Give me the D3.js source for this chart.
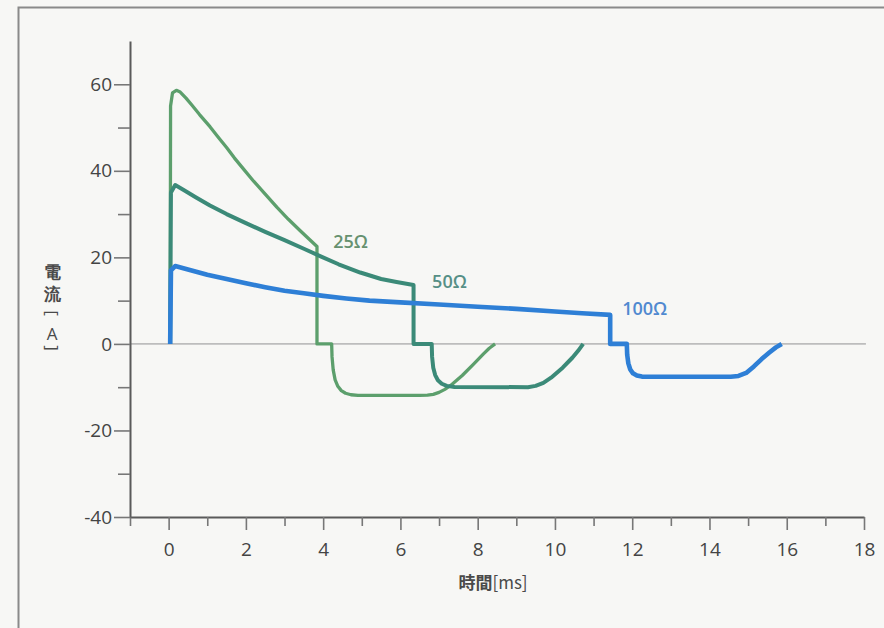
<!DOCTYPE html>
<html>
<head>
<meta charset="utf-8">
<script src="https://cdn.jsdelivr.net/npm/d3@7"></script>
<style>
  html, body { margin: 0; padding: 0; background: #f7f7f5; }
  svg text { font-family: "Open Sans", "Noto Sans", sans-serif; }
</style>
</head>
<body>
<div id="chart"></div>
<script>
// 軸の目盛り
var xTicks = d3.range(-1, 19);
var xLabels = [0, 2, 4, 6, 8, 10, 12, 14, 16, 18];
var yTicks = d3.range(-40, 61, 10);
var yLabels = [-40, -20, 0, 20, 40, 60];

// 負荷抵抗ごとの電流波形 [時間ms, 電流A]
var r25 = [[0.04,0],[0.05,55],[0.1,58],[0.2,58.6],[0.3,58.2],[0.45,56.8],[0.6,55.2],[0.8,53],
  [1.07,50.2],[1.3,47.6],[1.5,45.4],[1.7,43.0],[1.94,40.4],[2.2,37.6],[2.5,34.6],[2.8,31.6],
  [3.1,28.8],[3.4,26.2],[3.64,24.2],[3.84,22.5],[3.84,0],[4.22,0],[4.23,-3],[4.26,-6],[4.31,-8.3],
  [4.38,-9.8],[4.47,-10.8],[4.58,-11.4],[4.72,-11.75],[4.9,-11.9],[6.5,-11.9],[6.7,-11.85],
  [6.85,-11.65],[7.0,-11.2],[7.15,-10.5],[7.3,-9.6],[7.6,-7.3],[7.9,-4.6],[8.15,-2.3],[8.3,-1.0],[8.45,0]];
var r50 = [[0.04,0],[0.06,35],[0.17,36.7],[0.4,35.5],[0.7,33.9],[1.07,32.0],[1.5,30.0],[2.0,27.9],
  [2.5,25.9],[3.0,24.0],[3.5,22.0],[3.92,20.3],[4.4,18.4],[4.96,16.5],[5.5,15.0],[5.9,14.3],[6.34,13.6],
  [6.34,0],[6.81,0],[6.82,-3],[6.85,-5.5],[6.9,-7.2],[6.97,-8.4],[7.07,-9.2],[7.2,-9.7],[7.4,-9.95],
  [9.3,-10],[9.5,-9.7],[9.7,-9.0],[9.9,-7.8],[10.2,-5.5],[10.45,-3.2],[10.6,-1.6],[10.73,0]];
var r100 = [[0.04,0],[0.06,17],[0.17,18.0],[0.5,17.2],[1.0,16.0],[1.5,15.0],[2.0,14.0],[2.5,13.1],
  [3.0,12.3],[3.5,11.7],[4.0,11.1],[4.6,10.5],[5.2,10.0],[6.0,9.6],[7.0,9.1],[8.0,8.6],[9.0,8.1],
  [10.0,7.5],[10.7,7.1],[11.43,6.7],[11.43,0],[11.86,0],[11.87,-2.5],[11.9,-4.5],[11.95,-5.9],
  [12.02,-6.8],[12.12,-7.3],[12.25,-7.55],[12.45,-7.6],[14.55,-7.6],[14.75,-7.4],[14.95,-6.7],
  [15.15,-5.2],[15.35,-3.5],[15.55,-2.0],[15.72,-0.8],[15.87,0]];

var series = [
  {name: "25Ω", values: r25, color: "#5c9f6c", width: 3.3, label: [4.26, 22.2], labelColor: "#66916f"},
  {name: "50Ω", values: r50, color: "#3b8a78", width: 4, label: [6.82, 12.9], labelColor: "#568f86"},
  {name: "100Ω", values: r100, color: "#2e7fd6", width: 4.6, label: [11.74, 6.7], labelColor: "#5089d0"}
];

var W = 884, H = 628;
var margin = {top: 41, right: 20, bottom: 111, left: 130};
var width = W - margin.left - margin.right;
var height = H - margin.top - margin.bottom;

var root = d3.select("#chart").append("svg")
    .attr("width", W)
    .attr("height", H);

root.append("rect").attr("width", W).attr("height", H).attr("fill", "#f7f7f5");

// 外枠
root.append("path")
    .attr("d", "M18.5," + H + "V7.5H" + W)
    .attr("fill", "none")
    .attr("stroke", "#8a8a8a")
    .attr("stroke-width", 2);

var svg = root.append("g")
    .attr("transform", "translate(" + margin.left + "," + margin.top + ")");

var x = d3.scaleLinear().domain([-1, 18]).range([0, width]);
var y = d3.scaleLinear().domain([-40, 70]).range([height, 0]);

// ゼロ線
svg.append("line")
    .attr("x1", x(-1)).attr("x2", x(18.05))
    .attr("y1", y(0)).attr("y2", y(0))
    .attr("stroke", "#bdbdbd")
    .attr("stroke-width", 1.6);

// X軸
var xAxis = svg.append("g")
    .attr("class", "x-axis")
    .attr("transform", "translate(0," + height + ")")
    .call(d3.axisBottom(x).tickValues(xTicks)
      .tickSize(10).tickSizeOuter(0)
      .tickFormat(function(d) { return xLabels.indexOf(d) >= 0 ? d : ""; }));
xAxis.selectAll(".tick line")
    .attr("y2", function(d) { return d % 2 === 0 ? 13 : 9; });
xAxis.selectAll("text").attr("dy", "1.35em");

// Y軸
var yAxis = svg.append("g")
    .attr("class", "y-axis")
    .call(d3.axisLeft(y).tickValues(yTicks)
      .tickSize(16).tickSizeOuter(0)
      .tickFormat(function(d) { return yLabels.indexOf(d) >= 0 ? d : ""; }));
yAxis.selectAll(".tick line")
    .attr("x2", function(d) { return d % 20 === 0 ? -16 : -12; });
yAxis.selectAll("text").attr("x", -18);

svg.selectAll(".x-axis path, .y-axis path, .tick line")
    .attr("stroke", "#5a5a5a")
    .attr("stroke-width", 2);
svg.selectAll(".tick line").attr("stroke-width", 1.6).attr("stroke", "#777");
svg.selectAll(".tick text")
    .attr("fill", "#444")
    .style("font-size", "19px");

// 波形
var line = d3.line()
    .x(function(d) { return x(d[0]); })
    .y(function(d) { return y(d[1]); });

svg.selectAll(".wave")
    .data(series)
    .enter().append("path")
    .attr("class", "wave")
    .attr("d", function(d) { return line(d.values); })
    .attr("fill", "none")
    .attr("stroke", function(d) { return d.color; })
    .attr("stroke-width", function(d) { return d.width; })
    .attr("stroke-linejoin", "round");

svg.selectAll(".wave-label")
    .data(series)
    .enter().append("text")
    .attr("class", "wave-label")
    .attr("x", function(d) { return x(d.label[0]); })
    .attr("y", function(d) { return y(d.label[1]); })
    .attr("fill", function(d) { return d.labelColor; })
    .style("font-size", "18px")
    .style("font-weight", "600")
    .text(function(d) { return d.name; });

// 軸タイトル
var xTitle = root.append("text")
    .attr("x", 493).attr("y", 589)
    .attr("text-anchor", "middle")
    .attr("fill", "#4a4a4a")
    .style("font-size", "17px")
    .style("font-family", "'Noto Sans CJK JP', sans-serif");
xTitle.append("tspan").style("font-weight", "bold").text("時間");
xTitle.append("tspan").text("[ms]");

// 縦書きの「電流[A]」
var yTitle = root.append("g").attr("transform", "translate(52,0)")
    .attr("fill", "#4a4a4a")
    .style("font-family", "'Noto Sans CJK JP', sans-serif")
    .style("font-size", "17px")
    .style("font-weight", "bold");
yTitle.append("text").attr("y", 278).attr("text-anchor", "middle").text("電");
yTitle.append("text").attr("y", 300).attr("text-anchor", "middle").text("流");
yTitle.append("text").attr("transform", "translate(0,313) rotate(90)")
    .attr("text-anchor", "middle").attr("dy", "0.35em").style("font-weight", "normal").text("[");
yTitle.append("text").attr("y", 340).attr("text-anchor", "middle").style("font-weight", "normal").text("A");
yTitle.append("text").attr("transform", "translate(0,348) rotate(90)")
    .attr("text-anchor", "middle").attr("dy", "0.35em").style("font-weight", "normal").text("]");
</script>
</body>
</html>
